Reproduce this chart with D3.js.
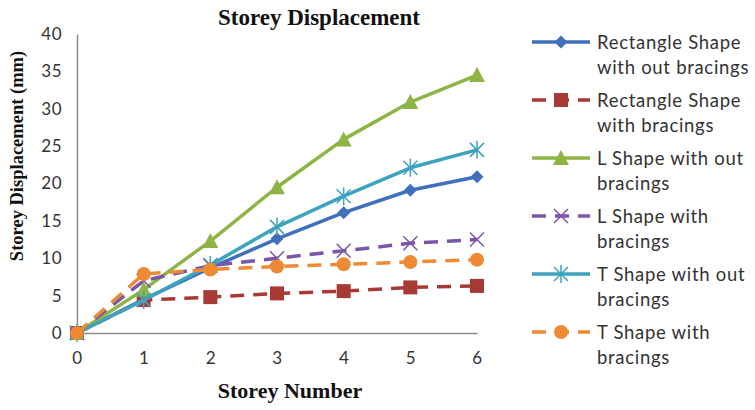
<!DOCTYPE html>
<html>
<head>
<meta charset="utf-8">
<script src="https://cdn.jsdelivr.net/npm/d3@7"></script>
<style>
  html, body { margin: 0; padding: 0; background: #fff; }
  svg { display: block; }
</style>
</head>
<body>
<svg id="chart" width="755" height="410"></svg>
<script>
// Storey numbers along the x axis
const storeys = [0, 1, 2, 3, 4, 5, 6];

// Displacement (mm) per storey for each building variant
const rectNoBracing = [0, 4.5, 8.7, 12.6, 16.1, 19.1, 20.9];
const rectBracing   = [0, 4.4, 4.8, 5.3, 5.6, 6.1, 6.3];
const lNoBracing    = [0, 5.8, 12.3, 19.5, 25.9, 30.9, 34.5];
const lBracing      = [0, 7.0, 9.0, 10.0, 11.0, 12.0, 12.5];
const tNoBracing    = [0, 4.4, 9.1, 14.2, 18.3, 22.1, 24.5];
const tBracing      = [0, 7.9, 8.5, 8.9, 9.2, 9.5, 9.8];

const yTicks = [0, 5, 10, 15, 20, 25, 30, 35, 40];

const seriesNames = [
  ["Rectangle Shape", "with out bracings"],
  ["Rectangle Shape", "with bracings"],
  ["L Shape with out", "bracings"],
  ["L Shape with", "bracings"],
  ["T Shape with out", "bracings"],
  ["T Shape with", "bracings"]
];
const seriesValues = [rectNoBracing, rectBracing, lNoBracing, lBracing, tNoBracing, tBracing];
const seriesColors = ["#3f6fbd", "#a83a35", "#8db445", "#7b56a8", "#3ea3bd", "#ef8a34"];
const seriesDashed = [false, true, false, true, false, true];
const seriesMarker = ["diamond", "square", "triangle", "x", "asterisk", "circle"];

const svg = d3.select("#chart");
const margin = { left: 77, top: 34, right: 278, bottom: 77 };
const W = 755, H = 410;

const x = d3.scaleLinear().domain([0, 6]).range([margin.left, W - margin.right]);
const y = d3.scaleLinear().domain([0, 40]).range([H - margin.bottom, margin.top]);

const sans = "Lato, 'Open Sans', sans-serif";
const serif = "'Liberation Serif', 'Times New Roman', serif";

// Axes: plain grey lines, no tick marks
const xAxis = svg.append("g")
  .attr("transform", `translate(0,${y(0)})`)
  .call(d3.axisBottom(x).tickValues(storeys).tickSize(0).tickPadding(19).tickFormat(d3.format("d")));
const yAxis = svg.append("g")
  .attr("transform", `translate(${x(0)},0)`)
  .call(d3.axisLeft(y).tickValues(yTicks).tickSize(0).tickPadding(15).tickFormat(d3.format("d")));

[xAxis, yAxis].forEach(a => {
  a.select(".domain").attr("stroke", "#8c8c8c").attr("stroke-width", 1.5);
  a.selectAll("text").attr("font-family", sans).attr("font-size", 17).attr("fill", "#333")
    .attr("letter-spacing", 0.5);
});

// Titles
svg.append("text")
  .attr("x", 319).attr("y", 25)
  .attr("text-anchor", "middle")
  .attr("font-family", serif).attr("font-weight", "bold").attr("font-size", 23)
  .attr("fill", "#111")
  .text("Storey Displacement");

svg.append("text")
  .attr("x", 290).attr("y", 398)
  .attr("text-anchor", "middle")
  .attr("font-family", serif).attr("font-weight", "bold").attr("font-size", 22)
  .attr("fill", "#111")
  .text("Storey Number");

svg.append("text")
  .attr("transform", "translate(23,156) rotate(-90)")
  .attr("text-anchor", "middle")
  .attr("font-family", serif).attr("font-weight", "bold").attr("font-size", 18.5)
  .attr("fill", "#111")
  .text("Storey Displacement (mm)");

// Marker shapes
function drawMarker(g, kind, cx, cy, color) {
  const m = g.append("g").attr("transform", `translate(${cx},${cy})`);
  switch (kind) {
    case "diamond":
      m.append("path").attr("d", "M0,-6.5L6.5,0L0,6.5L-6.5,0Z").attr("fill", color);
      break;
    case "square":
      m.append("rect").attr("x", -7).attr("y", -7).attr("width", 14).attr("height", 14).attr("fill", color);
      break;
    case "triangle":
      m.append("path").attr("d", "M0,-8L8,7L-8,7Z").attr("fill", color);
      break;
    case "x":
      m.append("path").attr("d", "M-7,-7L7,7M-7,7L7,-7").attr("stroke", color).attr("stroke-width", 1.5).attr("fill", "none");
      break;
    case "asterisk":
      m.append("path").attr("d", "M-7,-7L7,7M-7,7L7,-7M0,-9L0,9").attr("stroke", color).attr("stroke-width", 1.5).attr("fill", "none");
      break;
    case "circle":
      m.append("circle").attr("r", 7).attr("fill", color);
      break;
  }
}

const line = d3.line().x((d, i) => x(storeys[i])).y(d => y(d));
const plot = svg.append("g");

seriesValues.forEach((vals, s) => {
  plot.append("path")
    .datum(vals)
    .attr("d", line)
    .attr("fill", "none")
    .attr("stroke", seriesColors[s])
    .attr("stroke-width", 3.5)
    .attr("stroke-linejoin", "round")
    .attr("stroke-dasharray", seriesDashed[s] ? "14,9" : null);
  vals.forEach((v, i) => drawMarker(plot, seriesMarker[s], x(storeys[i]), y(v), seriesColors[s]));
});

// Legend
const legend = svg.append("g");
seriesNames.forEach((lines, s) => {
  const ly = 42 + s * 58;
  legend.append("line")
    .attr("x1", 532).attr("x2", 590).attr("y1", ly).attr("y2", ly)
    .attr("stroke", seriesColors[s]).attr("stroke-width", 3.5)
    .attr("stroke-dasharray", seriesDashed[s] ? "14,9" : null);
  drawMarker(legend, seriesMarker[s], 561, ly, seriesColors[s]);
  lines.forEach((t, k) => {
    legend.append("text")
      .attr("x", 597).attr("y", ly + 7 + k * 24.5)
      .attr("font-family", sans).attr("font-size", 18.5)
      .attr("letter-spacing", 0.7)
      .attr("fill", "#333")
      .text(t);
  });
});
</script>
</body>
</html>
